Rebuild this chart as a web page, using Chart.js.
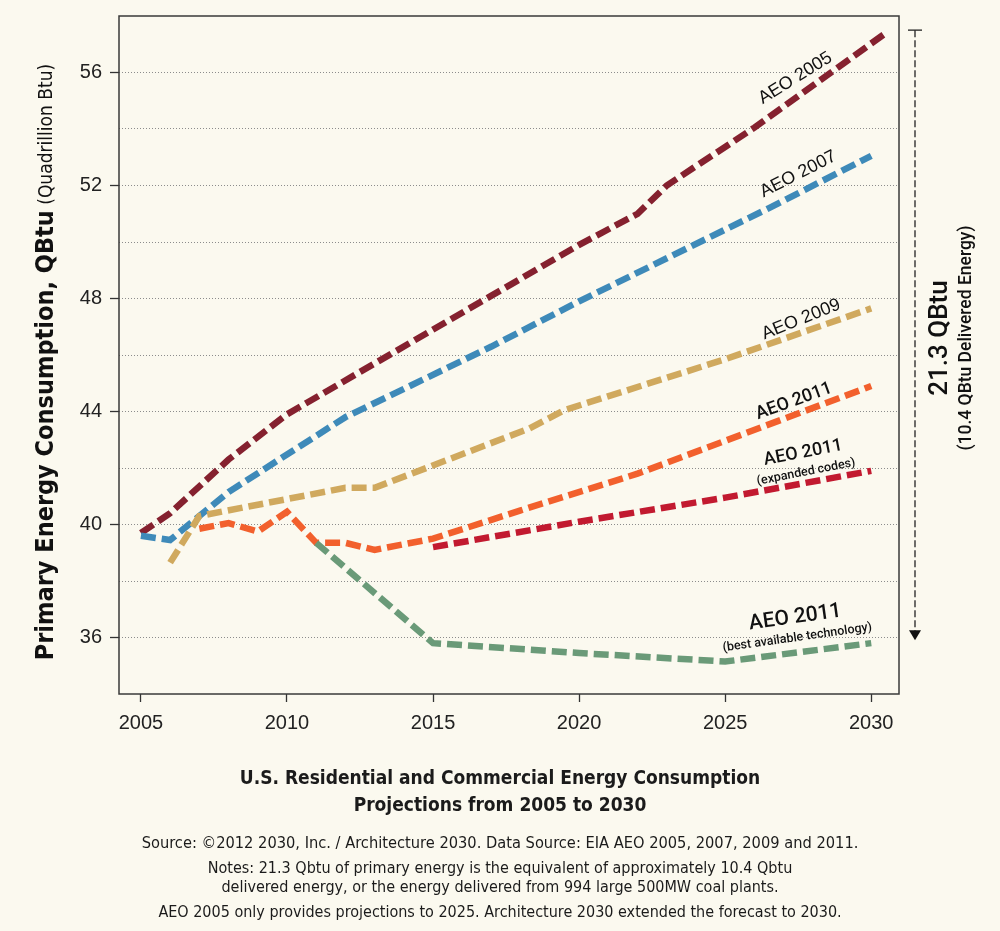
<!DOCTYPE html>
<html>
<head>
<meta charset="utf-8">
<script src="https://cdn.jsdelivr.net/npm/chart.js@4.4.1/dist/chart.umd.min.js"></script>
<style>
  html, body { margin: 0; padding: 0; background: #FBF9EF; }
  #wrap { position: relative; width: 1000px; height: 931px; }
  #chart { position: absolute; left: 0; top: 0; }
  .foot { position: absolute; left: 0; width: 1000px; text-align: center; color: #1b1b1b;
          font-family: 'Liberation Sans Narrow', 'DejaVu Sans Condensed', sans-serif; white-space: nowrap; }
  .title { font-weight: bold; font-size: 19px; }
  .small { font-size: 16px; }
</style>
</head>
<body>
<div id="wrap">
  <canvas id="chart" width="1000" height="931"></canvas>
  <div class="foot title" style="top:766px">U.S. Residential and Commercial Energy Consumption</div>
  <div class="foot title" style="top:793px">Projections from 2005 to 2030</div>
  <div class="foot small" style="top:833px; font-size:16.3px">Source: ©2012 2030, Inc. / Architecture 2030. Data Source: EIA AEO 2005, 2007, 2009 and 2011.</div>
  <div class="foot small" style="top:858px">Notes: 21.3 Qbtu of primary energy is the equivalent of approximately 10.4 Qbtu</div>
  <div class="foot small" style="top:877px">delivered energy, or the energy delivered from 994 large 500MW coal plants.</div>
  <div class="foot small" style="top:902px">AEO 2005 only provides projections to 2025. Architecture 2030 extended the forecast to 2030.</div>
</div>
<script>
// Projections (QBtu), year / value pairs per series
const aeo2005Years = [2005, 2006, 2008, 2010, 2017, 2020, 2022, 2023, 2026, 2030.5];
const aeo2005 = [39.7, 40.4, 42.3, 43.9, 48.1, 49.9, 51.0, 52.0, 54.05, 57.4];

const aeo2007Years = [2005, 2006, 2008, 2012, 2017, 2020, 2026.5, 2030];
const aeo2007 = [39.6, 39.45, 41.15, 43.8, 46.3, 47.9, 51.2, 53.05];

const aeo2009Years = [2006, 2007, 2012, 2013, 2018.3, 2019.5, 2025, 2030];
const aeo2009 = [38.65, 40.3, 41.3, 41.3, 43.4, 44.05, 45.85, 47.65];

const aeo2011Years = [2007, 2008, 2009, 2010, 2011, 2012, 2013, 2015, 2018, 2022, 2030];
const aeo2011 = [39.85, 40.05, 39.75, 40.45, 39.35, 39.35, 39.1, 39.5, 40.5, 41.8, 44.9];

const expandedYears = [2015, 2020, 2025, 2030];
const expandedCodes = [39.2, 40.1, 40.95, 41.9];

const batYears = [2011, 2015, 2020, 2025, 2030];
const bestTech = [39.35, 35.8, 35.45, 35.15, 35.8];

const xTicks = [2005, 2010, 2015, 2020, 2025, 2030];

const narrow = "'Liberation Sans Narrow', 'DejaVu Sans Condensed', sans-serif";
const plain = "'Liberation Sans', Arial, sans-serif";

function pts(xs, ys) {
    return xs.map((x, i) => ({ x: x, y: ys[i] }));
}

function series(label, xs, ys, color) {
    return {
        label: label,
        data: pts(xs, ys),
        borderColor: color,
        borderWidth: 6.5,
        borderDash: [15, 6],
        borderCapStyle: 'butt',
        pointRadius: 0,
        tension: 0,
        fill: false
    };
}

// labels, right-hand bracket, frame and y title
const annotations = {
    id: 'annotations',
    beforeDatasetsDraw(chart) {
        const { ctx, chartArea: a } = chart;
        ctx.save();
        ctx.strokeStyle = '#3a3a3a';
        ctx.lineWidth = 1.5;
        ctx.strokeRect(a.left, a.top, a.right - a.left, a.bottom - a.top);
        ctx.restore();
    },
    afterDraw(chart) {
        const { ctx, chartArea: a, scales: { x, y } } = chart;
        ctx.save();
        ctx.fillStyle = '#111';

        // y axis title
        ctx.save();
        ctx.translate(46, 362);
        ctx.rotate(-Math.PI / 2);
        const boldFont = 'bold 25px ' + narrow;
        const thinFont = '19px ' + narrow;
        ctx.font = boldFont;
        const t1 = 'Primary Energy Consumption, QBtu';
        const w1 = ctx.measureText(t1).width;
        ctx.font = thinFont;
        const t2 = ' (Quadrillion Btu)';
        const w2 = ctx.measureText(t2).width;
        ctx.textBaseline = 'middle';
        ctx.textAlign = 'left';
        ctx.font = boldFont;
        ctx.fillText(t1, -(w1 + w2) / 2, 0);
        ctx.font = thinFont;
        ctx.fillText(t2, -(w1 + w2) / 2 + w1, 1);
        ctx.restore();

        // series labels
        const labels = [
            { t: 'AEO 2005', x: 2027.4, y: 55.8, a: -32, f: '18px ' + plain },
            { t: 'AEO 2007', x: 2027.5, y: 52.4, a: -27, f: '18px ' + plain },
            { t: 'AEO 2009', x: 2027.6, y: 47.26, a: -22, f: '18px ' + plain },
            { t: 'AEO 2011', x: 2027.36, y: 44.36, a: -20, f: '500 18px Roboto, sans-serif' },
            { t: 'AEO 2011', x: 2027.67, y: 42.53, a: -11, f: '500 18px Roboto, sans-serif' },
            { t: '(expanded codes)', x: 2027.77, y: 41.85, a: -11, f: '500 12.5px Roboto, sans-serif' },
            { t: 'AEO 2011', x: 2027.4, y: 36.7, a: -8, f: '500 21px Roboto, sans-serif' },
            { t: '(best available technology)', x: 2027.47, y: 35.99, a: -8, f: '500 12.5px Roboto, sans-serif' }
        ];
        ctx.textAlign = 'center';
        ctx.textBaseline = 'middle';
        labels.forEach(l => {
            ctx.save();
            ctx.translate(x.getPixelForValue(l.x), y.getPixelForValue(l.y));
            ctx.rotate(l.a * Math.PI / 180);
            ctx.font = l.f;
            ctx.fillText(l.t, 0, 0);
            ctx.restore();
        });

        // 21.3 QBtu bracket
        const bx = a.right + 16;
        const top = y.getPixelForValue(57.5);
        const tip = y.getPixelForValue(35.9);
        ctx.strokeStyle = '#222';
        ctx.lineWidth = 1.3;
        ctx.beginPath();
        ctx.moveTo(bx - 7, top);
        ctx.lineTo(bx + 7, top);
        ctx.stroke();
        ctx.setLineDash([7, 3]);
        ctx.beginPath();
        ctx.moveTo(bx, top);
        ctx.lineTo(bx, tip - 9);
        ctx.stroke();
        ctx.setLineDash([]);
        ctx.beginPath();
        ctx.moveTo(bx - 6, tip - 10);
        ctx.lineTo(bx + 6, tip - 10);
        ctx.lineTo(bx, tip);
        ctx.closePath();
        ctx.fill();

        ctx.save();
        ctx.translate(bx + 25, 338);
        ctx.rotate(-Math.PI / 2);
        ctx.textAlign = 'center';
        ctx.textBaseline = 'middle';
        ctx.font = '500 26px Roboto, sans-serif';
        ctx.fillText('21.3 QBtu', 0, 0);
        ctx.font = '500 17.5px Roboto, sans-serif';
        ctx.fillText('(10.4 QBtu Delivered Energy)', 0, 27);
        ctx.restore();

        ctx.restore();
    }
};

const chart = new Chart(document.getElementById('chart').getContext('2d'), {
    type: 'line',
    data: {
        datasets: [
            series('AEO 2011 (best available technology)', batYears, bestTech, '#6A9A78'),
            series('AEO 2011 (expanded codes)', expandedYears, expandedCodes, '#C21A30'),
            series('AEO 2011', aeo2011Years, aeo2011, '#F2602D'),
            series('AEO 2009', aeo2009Years, aeo2009, '#D0A95E'),
            series('AEO 2007', aeo2007Years, aeo2007, '#3E8AB9'),
            series('AEO 2005', aeo2005Years, aeo2005, '#85212F')
        ]
    },
    options: {
        responsive: false,
        animation: false,
        layout: { padding: { top: 16, right: 101, left: 0, bottom: 0 } },
        plugins: {
            legend: { display: false },
            tooltip: { enabled: false }
        },
        scales: {
            x: {
                type: 'linear',
                min: 2004.25,
                max: 2030.95,
                afterBuildTicks: s => { s.ticks = xTicks.map(v => ({ value: v })); },
                afterFit: s => { s.height = 237; },
                ticks: {
                    color: '#222',
                    padding: 9,
                    maxRotation: 0,
                    font: { family: plain, size: 20 },
                    callback: v => String(v)
                },
                grid: { drawOnChartArea: false, tickLength: 8, color: '#333', tickWidth: 1.3 },
                border: { display: false }
            },
            y: {
                min: 34,
                max: 58,
                afterFit: s => { s.width = 119; s.paddingTop = 0; s.paddingBottom = 0; },
                ticks: {
                    stepSize: 2,
                    color: '#222',
                    padding: 8,
                    font: { family: plain, size: 20 },
                    callback: v => (v % 4 === 0 && v >= 36 && v <= 56) ? String(v) : ''
                },
                grid: {
                    color: c => (c.tick && (c.tick.value === 34 || c.tick.value === 58)) ? 'rgba(0,0,0,0)' : '#8c8c8c',
                    lineWidth: 1,
                    tickLength: 9,
                    tickWidth: 1.3,
                    tickColor: c => (c.tick && c.tick.value % 4 === 0 && c.tick.value >= 36 && c.tick.value <= 56) ? '#333' : 'rgba(0,0,0,0)'
                },
                border: { display: false, dash: [1, 2] }
            }
        }
    },
    plugins: [annotations]
});
</script>
</body>
</html>
